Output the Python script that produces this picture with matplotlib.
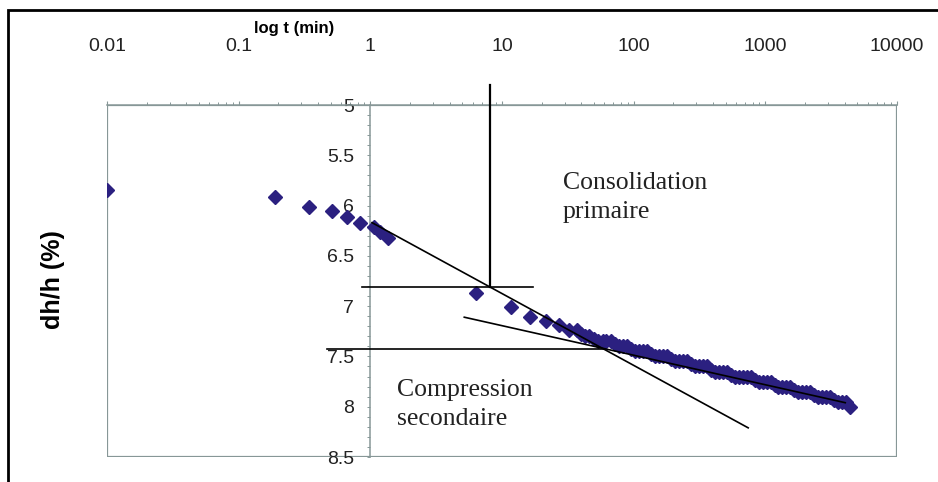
import numpy as np
import matplotlib.pyplot as plt
from matplotlib.patches import Rectangle
from matplotlib.ticker import FixedLocator, LogLocator, MultipleLocator, NullFormatter

plt.rcParams['font.family'] = ['Liberation Sans', 'DejaVu Sans']

# temps (min) et tassement dh/h (%)
t_early = [0.01, 0.19, 0.34, 0.51, 0.67, 0.83, 1.06, 1.19, 1.36,
           6.35, 11.8, 16.4, 21.6, 27.2, 32, 37]
dh_early = [5.85, 5.91, 6.01, 6.05, 6.11, 6.17, 6.21, 6.26, 6.32,
            6.87, 7.01, 7.11, 7.15, 7.19, 7.24, 7.24]

t_late = [40, 43, 46, 50, 54, 58, 62, 67, 72, 77, 83, 89, 96, 103, 110, 118,
          127, 136, 146, 157, 168, 180, 193, 207, 222, 238, 255, 273, 293, 314,
          337, 361, 387, 415, 445, 477, 511, 548, 587, 629, 674, 722, 774, 830,
          890, 954, 1022, 1095, 1174, 1258, 1348, 1445, 1548, 1660, 1778, 1906,
          2042, 2189, 2346, 2514, 2694, 2887, 3094, 3316, 3554, 3808, 4081, 4374]
dh_late = [7.28, 7.30, 7.30, 7.33, 7.35, 7.35, 7.35, 7.35, 7.38, 7.40, 7.40, 7.40,
           7.43, 7.45, 7.45, 7.45, 7.45, 7.48, 7.50, 7.50, 7.50, 7.50, 7.53, 7.55,
           7.55, 7.55, 7.55, 7.58, 7.60, 7.60, 7.60, 7.60, 7.63, 7.65, 7.65, 7.65,
           7.65, 7.68, 7.70, 7.70, 7.70, 7.70, 7.70, 7.73, 7.75, 7.75, 7.75, 7.75,
           7.78, 7.80, 7.80, 7.80, 7.80, 7.83, 7.85, 7.85, 7.85, 7.85, 7.88, 7.90,
           7.90, 7.90, 7.90, 7.93, 7.95, 7.95, 7.95, 8.00]

t = t_early + t_late
dh = dh_early + dh_late

# constructions (tangentes, reperes)
tang1_t, tang1_y = [1.03, 741], [6.17, 8.21]
tang2_t, tang2_y = [5.17, 4045], [7.11, 7.96]
h1_t, h1_y = [0.87, 17.3], [6.81, 6.81]
h2_t, h2_y = [0.47, 61], [7.43, 7.43]
v_t, v_y = [8.15, 8.15], [4.80, 6.81]

xticks = [0.01, 0.1, 1, 10, 100, 1000, 10000]
xlabels = ['0.01', '0.1', '1', '10', '100', '1000', '10000']
yticks = [5, 5.5, 6, 6.5, 7, 7.5, 8, 8.5]
ylabels = ['5', '5.5', '6', '6.5', '7', '7.5', '8', '8.5']

grey = '#879797'
fig = plt.figure(figsize=(9.38, 4.82), dpi=100)
ax = fig.add_axes([107/938, 25/482, 790/938, 352/482])

ax.plot(t, dh, 'D', color='#2b2080', ms=7.3, mec='#2b2080', zorder=3)
for xx, yy in [(tang1_t, tang1_y), (tang2_t, tang2_y), (h1_t, h1_y), (h2_t, h2_y)]:
    ax.plot(xx, yy, '-', color='black', lw=1.2, zorder=4)
ax.plot(v_t, v_y, '-', color='black', lw=1.6, zorder=4, clip_on=False)

ax.set_xscale('log')
ax.set_xlim(0.01, 10000)
ax.set_ylim(8.5, 5)

# axe x en haut
ax.xaxis.tick_top()
ax.xaxis.set_major_locator(FixedLocator(xticks))
ax.set_xticklabels(xlabels)
ax.xaxis.set_minor_locator(LogLocator(base=10, subs=np.arange(2, 10)))
ax.xaxis.set_minor_formatter(NullFormatter())
ax.tick_params(axis='x', which='major', direction='out', length=3, width=0.8,
               color=grey, pad=33, labelsize=14, labelcolor='#222222')
ax.tick_params(axis='x', which='minor', direction='out', length=2, width=0.7, color=grey)

# axe y place a t = 1
ax.spines['left'].set_position(('data', 1))
ax.spines['bottom'].set_visible(False)
ax.spines['right'].set_visible(False)
for s in ['left', 'top']:
    ax.spines[s].set_color(grey)
    ax.spines[s].set_linewidth(1.1)
ax.set_yticks(yticks)
ax.set_yticklabels(ylabels)
ax.yaxis.set_minor_locator(MultipleLocator(0.1))
ax.tick_params(axis='y', which='both', direction='out', length=2.5, width=0.7,
               color=grey, pad=9, labelsize=14, labelcolor='#222222')
ax.add_patch(Rectangle((0, 0), 1, 1, transform=ax.transAxes, fill=False,
                       ec=grey, lw=1.6, zorder=1))

fig.text(563/938, 1 - 172/482, 'Consolidation\nprimaire', family='Liberation Serif',
         fontsize=18.5, va='top', ha='left', color='#222222', linespacing=1.42)
fig.text(397/938, 1 - 379/482, 'Compression\nsecondaire', family='Liberation Serif',
         fontsize=18.5, va='top', ha='left', color='#222222', linespacing=1.42)

fig.text(294/938, 1 - 28/482, 'log t (min)', fontweight='bold', fontsize=12,
         ha='center', va='center')
fig.text(53/938, 1 - 280/482, 'dh/h (%)', fontweight='bold', fontsize=18,
         rotation=90, ha='center', va='center')

fig.add_artist(Rectangle((8/938, -0.1), 1.2, 1.1 - 10/482, transform=fig.transFigure,
                         fill=False, ec='black', lw=2))

fig.savefig('out.png', dpi=100)
